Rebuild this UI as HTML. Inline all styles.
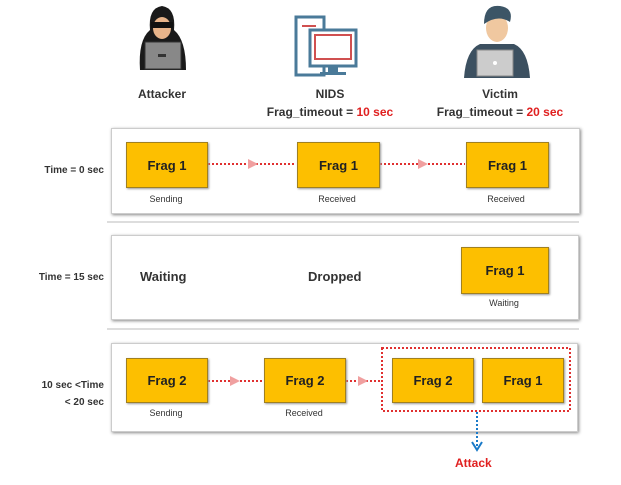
<!DOCTYPE html>
<html><head><style>
body{margin:0;width:621px;height:485px;background:#fff;font-family:"Liberation Sans",sans-serif;position:relative;overflow:hidden}
.a{position:absolute}
.p{position:absolute;background:#fff;border:1px solid #ccc;box-shadow:1px 1px 3px #888}
.f{position:absolute;background:#fdbf00;border:1px solid #a08020;box-shadow:1px 1px 2px #999;font-weight:bold;font-size:13px;display:flex;align-items:center;justify-content:center;color:#222;z-index:6}
.s{position:absolute;font-size:9px;color:#333;text-align:center;width:100px}
.t{position:absolute;font-size:11px;font-weight:bold;color:#333;text-align:center}
.l{position:absolute;font-size:10px;font-weight:bold;color:#333;text-align:right;width:100px}
.sep{position:absolute;height:2px;background:#ddd}
</style></head><body>
<div class="p" style="left:111px;top:128px;width:467px;height:84px"></div>
<div class="sep" style="left:107px;top:221px;width:472px"></div>
<div class="p" style="left:111px;top:235px;width:466px;height:83px"></div>
<div class="sep" style="left:107px;top:328px;width:472px"></div>
<div class="p" style="left:111px;top:343px;width:465px;height:87px"></div>

<svg class="a" style="left:0;top:0;z-index:5" width="621" height="485">
<path d="M140 70 Q138 40 150 30 Q148 8 162 6 Q176 8 174 30 Q186 40 186 70 Z" fill="#1a1a1a"/>
<ellipse cx="162" cy="28" rx="9" ry="11" fill="#e8b48a"/>
<rect x="151" y="22" width="22" height="6" fill="#111"/>
<rect x="145" y="42" width="36" height="27" fill="#888" stroke="#333"/>
<rect x="158" y="54" width="8" height="3" fill="#333"/>
<rect x="296" y="17" width="28" height="58" fill="#fff" stroke="#4a7a99" stroke-width="3"/>
<line x1="302" y1="26" x2="316" y2="26" stroke="#d05050" stroke-width="2"/>
<rect x="310" y="30" width="46" height="36" fill="#fff" stroke="#4a7a99" stroke-width="3"/>
<rect x="315" y="35" width="36" height="24" fill="#fff" stroke="#d05050" stroke-width="2"/>
<rect x="328" y="66" width="10" height="6" fill="#4a7a99"/>
<rect x="320" y="72" width="26" height="3" fill="#4a7a99"/>
<path d="M464 78 Q466 50 480 44 L514 44 Q528 50 530 78 Z" fill="#3c5060"/>
<ellipse cx="497" cy="28" rx="11" ry="14" fill="#f0c8a0"/>
<path d="M484 24 Q484 4 500 6 Q514 8 510 22 Q498 14 484 24Z" fill="#3c5566"/>
<rect x="477" y="50" width="36" height="26" fill="#ccc" stroke="#888"/>
<circle cx="495" cy="63" r="2" fill="#fff"/>
<g stroke="#e03030" stroke-width="2" stroke-dasharray="2,2">
<line x1="208" y1="164" x2="296" y2="164"/><line x1="380" y1="164" x2="465" y2="164"/>
<line x1="208" y1="381" x2="263" y2="381"/><line x1="346" y1="381" x2="381" y2="381"/>
<rect x="382" y="348" width="188" height="63" fill="none"/>
</g>
<g fill="#f0a0a0"><path d="M248 159 L258 164 L248 169Z"/><path d="M418 159 L428 164 L418 169Z"/><path d="M230 376 L240 381 L230 386Z"/><path d="M358 376 L368 381 L358 386Z"/></g>
<line x1="477" y1="412" x2="477" y2="446" stroke="#1a7ac8" stroke-width="2" stroke-dasharray="2,2"/>
<path d="M472 442 L477 450 L482 442" fill="none" stroke="#1a7ac8" stroke-width="2"/>
</svg>
<div class="t" style="left:120px;top:87px;width:84px;font-size:12px">Attacker</div>
<div class="t" style="left:250px;top:87px;width:160px;font-size:12px">NIDS</div>
<div class="t" style="left:250px;top:105px;width:160px;font-size:12px">Frag_timeout = <span style="color:#e02020">10 sec</span></div>
<div class="t" style="left:420px;top:87px;width:160px;font-size:12px">Victim</div>
<div class="t" style="left:420px;top:105px;width:160px;font-size:12px">Frag_timeout = <span style="color:#e02020">20 sec</span></div>

<div class="l" style="left:4px;top:165px">Time = 0 sec</div>
<div class="l" style="left:4px;top:272px">Time = 15 sec</div>
<div class="l" style="left:4px;top:377px;line-height:17px">10 sec &lt;Time<br>&lt; 20 sec</div>

<div class="f" style="left:126px;top:142px;width:80px;height:44px">Frag 1</div>
<div class="f" style="left:297px;top:142px;width:81px;height:44px">Frag 1</div>
<div class="f" style="left:466px;top:142px;width:81px;height:44px">Frag 1</div>
<div class="s" style="left:116px;top:194px">Sending</div>
<div class="s" style="left:287px;top:194px">Received</div>
<div class="s" style="left:456px;top:194px">Received</div>

<div class="a" style="left:140px;top:269px;font-size:13px;font-weight:bold;color:#333">Waiting</div>
<div class="a" style="left:308px;top:269px;font-size:13px;font-weight:bold;color:#333">Dropped</div>
<div class="f" style="left:461px;top:247px;width:86px;height:45px">Frag 1</div>
<div class="s" style="left:454px;top:298px">Waiting</div>

<div class="f" style="left:126px;top:358px;width:80px;height:43px">Frag 2</div>
<div class="f" style="left:264px;top:358px;width:80px;height:43px">Frag 2</div>
<div class="f" style="left:392px;top:358px;width:80px;height:43px">Frag 2</div>
<div class="f" style="left:482px;top:358px;width:80px;height:43px">Frag 1</div>
<div class="s" style="left:116px;top:408px">Sending</div>
<div class="s" style="left:254px;top:408px">Received</div>
<div class="a" style="left:455px;top:456px;font-size:12px;font-weight:bold;color:#e02020">Attack</div>
</body></html>
